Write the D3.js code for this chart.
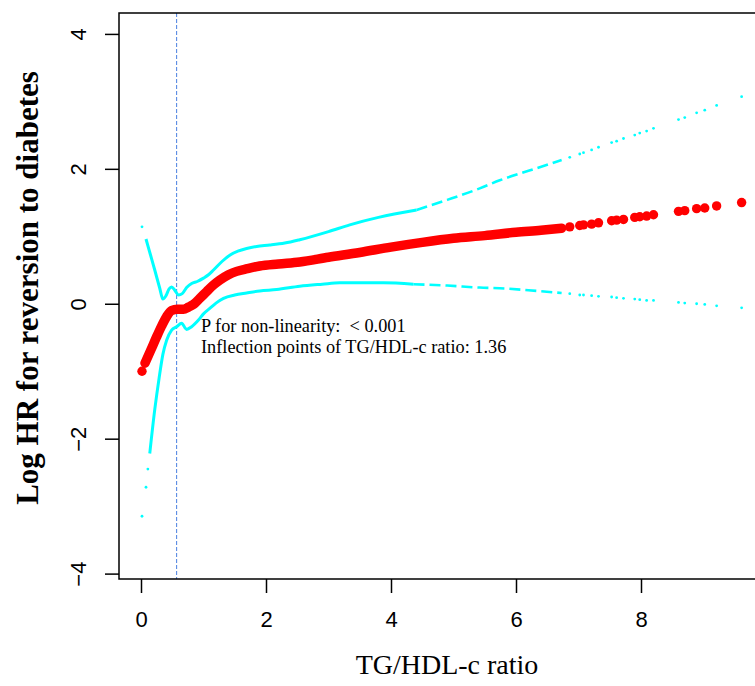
<!DOCTYPE html>
<html>
<head>
<meta charset="utf-8">
<script src="https://cdn.jsdelivr.net/npm/d3@7"></script>
<style>
  body { margin: 0; background: #fff; }
  svg { display: block; }
</style>
</head>
<body>
<div id="chart"></div>
<script>
// Fitted log HR curve, dense part (drawn as a thick line of overlapping dots)
const fitDense = [
  [0.064, -0.88], [0.16, -0.68], [0.25, -0.49], [0.33, -0.33], [0.41, -0.19],
  [0.49, -0.10], [0.58, -0.08], [0.68, -0.08], [0.76, -0.05], [0.84, -0.01],
  [0.94, 0.08], [1.05, 0.18], [1.15, 0.27], [1.26, 0.35], [1.40, 0.43],
  [1.53, 0.48], [1.70, 0.52], [1.90, 0.56], [2.20, 0.59], [2.54, 0.62],
  [3.0, 0.69], [3.5, 0.76], [4.0, 0.84], [4.5, 0.91], [5.0, 0.97],
  [5.5, 1.01], [6.0, 1.06], [6.4, 1.09], [6.73, 1.12]
];

// Sparse observations at high ratio values
const sparseX     = [0.016, 6.86, 7.02, 7.08, 7.21, 7.32, 7.53, 7.61, 7.72, 7.90, 7.98, 8.09, 8.20, 8.60, 8.70, 8.89, 9.02, 9.21, 9.61];
const sparseFit   = [-1.00, 1.14, 1.16, 1.17, 1.18, 1.20, 1.23, 1.24, 1.25, 1.28, 1.29, 1.30, 1.32, 1.37, 1.38, 1.41, 1.42, 1.45, 1.50];
const sparseUpper = [1.14, 2.17, 2.22, 2.24, 2.28, 2.32, 2.39, 2.41, 2.45, 2.50, 2.53, 2.56, 2.60, 2.73, 2.76, 2.83, 2.87, 2.94, 3.07];
const sparseLower = [-3.15, 0.15, 0.13, 0.13, 0.12, 0.11, 0.10, 0.09, 0.08, 0.07, 0.06, 0.05, 0.05, 0.02, 0.01, 0.00, -0.01, -0.03, -0.06];

// 95% CI bounds, dense part
const upperSolid = [
  [0.08, 0.96], [0.15, 0.73], [0.22, 0.50], [0.30, 0.23], [0.35, 0.07],
  [0.40, 0.12], [0.45, 0.22], [0.49, 0.25], [0.54, 0.20], [0.60, 0.13],
  [0.66, 0.15], [0.73, 0.24], [0.81, 0.30], [0.90, 0.33], [1.0, 0.38],
  [1.08, 0.43], [1.16, 0.50], [1.30, 0.63], [1.42, 0.72], [1.55, 0.78],
  [1.69, 0.82], [1.85, 0.85], [2.06, 0.87], [2.30, 0.90], [2.54, 0.95],
  [3.0, 1.07], [3.34, 1.17], [3.8, 1.28], [4.41, 1.39]
];
const upperDashed = [[4.41, 1.39], [4.9, 1.54], [5.42, 1.71], [5.74, 1.83], [6.2, 1.97], [6.73, 2.13]];

const lowerDots = [[0.08, -2.72], [0.11, -2.45]];
const lowerSolid = [
  [0.14, -2.22], [0.22, -1.57], [0.29, -1.10], [0.35, -0.75], [0.41, -0.54],
  [0.49, -0.39], [0.57, -0.34], [0.65, -0.29], [0.73, -0.38], [0.81, -0.34],
  [0.92, -0.24], [1.0, -0.15], [1.10, -0.07], [1.20, 0.01], [1.32, 0.08],
  [1.50, 0.13], [1.69, 0.16], [1.90, 0.19], [2.17, 0.21], [2.54, 0.26],
  [2.9, 0.29], [3.18, 0.31], [3.5, 0.31], [3.88, 0.31], [4.36, 0.29]
];
const lowerDashed = [[4.36, 0.29], [4.9, 0.27], [5.42, 0.24], [5.74, 0.23], [6.2, 0.20], [6.73, 0.16]];

const refLineX = 0.57;  // dashed vertical reference
const xTicks = [0, 2, 4, 6, 8];
const yTicks = [-4, -2, 0, 2, 4];
const annotation = ["P for non-linearity:  < 0.001", "Inflection points of TG/HDL-c ratio: 1.36"];

// plot box in pixels (right side runs past the window edge)
const box = { left: 119, right: 765, top: 13, bottom: 579 };

const svg = d3.select("#chart").append("svg")
    .attr("width", 755)
    .attr("height", 686);

const x = d3.scaleLinear().domain([-0.352, 9.984]).range([box.left, box.right]);
const y = d3.scaleLinear().domain([-4.08, 4.31]).range([box.bottom, box.top]);

const line = d3.line().x(d => x(d[0])).y(d => y(d[1])).curve(d3.curveMonotoneX);

// reference line
svg.append("line")
    .attr("x1", x(refLineX)).attr("x2", x(refLineX))
    .attr("y1", box.top).attr("y2", box.bottom)
    .attr("stroke", "#4a7fe0")
    .attr("stroke-width", 1)
    .attr("stroke-dasharray", "4,2");

// CI bounds
const cyan = "#00ffff";
[upperSolid, lowerSolid].forEach(d => {
  svg.append("path").datum(d)
      .attr("d", line)
      .attr("fill", "none")
      .attr("stroke", cyan)
      .attr("stroke-width", 3)
      .attr("stroke-linejoin", "round");
});
[upperDashed, lowerDashed].forEach(d => {
  svg.append("path").datum(d)
      .attr("d", line)
      .attr("fill", "none")
      .attr("stroke", cyan)
      .attr("stroke-width", 2.6)
      .attr("stroke-dasharray", "11,5");
});
svg.append("g").selectAll("circle")
    .data(sparseX.flatMap((v, i) => [[v, sparseUpper[i]], [v, sparseLower[i]]]).concat(lowerDots))
    .join("circle")
    .attr("cx", d => x(d[0]))
    .attr("cy", d => y(d[1]))
    .attr("r", 1.4)
    .attr("fill", cyan);

// fitted curve
svg.append("path").datum(fitDense)
    .attr("d", line)
    .attr("fill", "none")
    .attr("stroke", "#ff0000")
    .attr("stroke-width", 9.5)
    .attr("stroke-linecap", "round")
    .attr("stroke-linejoin", "round");
svg.append("g").selectAll("circle")
    .data(sparseX.map((v, i) => [v, sparseFit[i]]))
    .join("circle")
    .attr("cx", d => x(d[0]))
    .attr("cy", d => y(d[1]))
    .attr("r", 4.7)
    .attr("fill", "#ff0000");

// box
svg.append("rect")
    .attr("x", box.left).attr("y", box.top)
    .attr("width", box.right - box.left)
    .attr("height", box.bottom - box.top)
    .attr("fill", "none")
    .attr("stroke", "#000")
    .attr("stroke-width", 1.5);

// axes
const yAxis = svg.append("g")
    .attr("transform", `translate(${box.left},0)`)
    .call(d3.axisLeft(y).tickValues(yTicks).tickSize(14).tickFormat(d => d === 0 ? "0" : d3.format("")(d).replace("-", "\u2212")));
yAxis.select(".domain").remove();
yAxis.selectAll("line").attr("stroke-width", 1.5);
yAxis.selectAll("text")
    .attr("x", 0).attr("dy", 0)
    .attr("transform", "translate(-33,0) rotate(-90)")
    .attr("text-anchor", "middle")
    .style("font-family", "'Liberation Sans', Arial, sans-serif")
    .style("font-size", "22px")
    .attr("fill", "#000");

const xAxis = svg.append("g")
    .attr("transform", `translate(0,${box.bottom})`)
    .call(d3.axisBottom(x).tickValues(xTicks).tickSize(14));
xAxis.select(".domain").remove();
xAxis.selectAll("line").attr("stroke-width", 1.5);
xAxis.selectAll("text")
    .attr("y", 48).attr("dy", 0)
    .style("font-family", "'Liberation Sans', Arial, sans-serif")
    .style("font-size", "22px")
    .attr("fill", "#000");

// axis titles
svg.append("text")
    .attr("transform", "translate(38,288) rotate(-90)")
    .attr("text-anchor", "middle")
    .style("font-family", "'Liberation Serif', 'Times New Roman', serif")
    .style("font-weight", "bold")
    .style("font-size", "31px")
    .text("Log HR for reversion to diabetes");

svg.append("text")
    .attr("x", 447).attr("y", 674)
    .attr("text-anchor", "middle")
    .style("font-family", "'Liberation Serif', 'Times New Roman', serif")
    .style("font-size", "28px")
    .text("TG/HDL-c ratio");

// annotation
svg.append("g").selectAll("text")
    .data(annotation)
    .join("text")
    .attr("x", 201)
    .attr("y", (d, i) => 332 + i * 21)
    .style("font-family", "'Liberation Serif', 'Times New Roman', serif")
    .style("font-size", "18.3px")
    .style("white-space", "pre")
    .text(d => d);
</script>
</body>
</html>
